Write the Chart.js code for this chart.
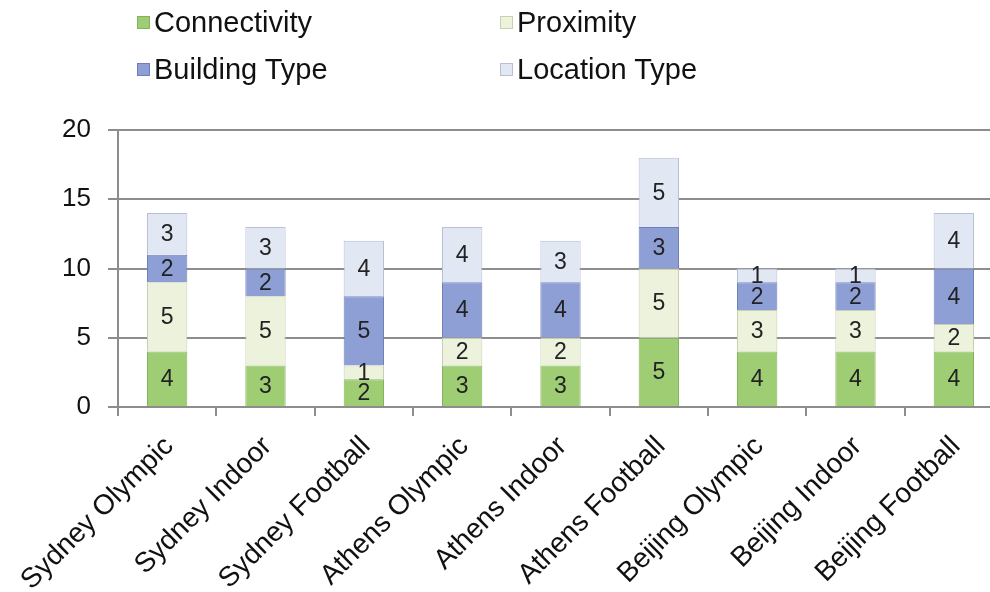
<!DOCTYPE html>
<html>
<head>
<meta charset="utf-8">
<script src="https://cdn.jsdelivr.net/npm/chart.js@4/dist/chart.umd.min.js"></script>
<style>
  html, body { margin: 0; padding: 0; background: #fff; width: 990px; height: 592px; overflow: hidden; }
  #wrap { position: relative; width: 1010px; height: 592px; }
  #chart { position: absolute; left: 0; top: 0; }
  #legend {
    position: absolute; left: 137px; top: -1px;
    font-family: "Liberation Sans", Arial, sans-serif; font-size: 29px; color: #111;
    display: grid; grid-template-columns: 363px 260px; line-height: 47px;
  }
  #legend .item { display: flex; align-items: center; white-space: nowrap; }
  #legend .box { width: 13px; height: 13px; margin-right: 4px; box-sizing: border-box; border: 1px solid; }
</style>
</head>
<body>
<div id="wrap">
  <canvas id="chart" width="1010" height="592"></canvas>
  <div id="legend"></div>
</div>
<script>
// Venue categories
const venues = [
  'Sydney Olympic', 'Sydney Indoor', 'Sydney Football',
  'Athens Olympic', 'Athens Indoor', 'Athens Football',
  'Beijing Olympic', 'Beijing Indoor', 'Beijing Football'
];

// Score components per venue
const connectivity = [4, 3, 2, 3, 3, 5, 4, 4, 4];
const proximity    = [5, 5, 1, 2, 2, 5, 3, 3, 2];
const buildingType = [2, 2, 5, 4, 4, 3, 2, 2, 4];
const locationType = [3, 3, 4, 4, 3, 5, 1, 1, 4];

// Y axis ticks
const yTicks = [0, 5, 10, 15, 20];

const seriesNames = ['Connectivity', 'Proximity', 'Building Type', 'Location Type'];
const seriesData = [connectivity, proximity, buildingType, locationType];
const fills   = ['#9fcd74', '#edf2dc', '#8e9fd5', '#e2e7f4'];
const strokes = ['#84b25c', '#c9cfb3', '#6d7fb8', '#b8bfd6'];

const FONT = '"Liberation Sans", Arial, sans-serif';
const GRID = '#8d8d8d';

// Numbers centred inside each stacked segment
const segmentLabels = {
  id: 'segmentLabels',
  afterDatasetsDraw(chart) {
    const ctx = chart.ctx;
    ctx.save();
    ctx.font = '23px ' + FONT;
    ctx.fillStyle = '#222';
    ctx.textAlign = 'center';
    ctx.textBaseline = 'middle';
    chart.data.datasets.forEach((ds, i) => {
      const meta = chart.getDatasetMeta(i);
      meta.data.forEach((bar, j) => {
        const v = ds.data[j];
        if (!v) return;
        const { x, y, base } = bar.getProps(['x', 'y', 'base'], true);
        ctx.fillText(String(v), x, (y + base) / 2 + 1);
      });
    });
    ctx.restore();
  }
};

new Chart(document.getElementById('chart'), {
  type: 'bar',
  data: {
    labels: venues,
    datasets: seriesData.map((d, i) => ({
      label: seriesNames[i],
      data: d,
      backgroundColor: fills[i],
      borderColor: strokes[i],
      borderWidth: 1,
      barPercentage: 0.41,
      categoryPercentage: 1.0
    }))
  },
  options: {
    responsive: false,
    devicePixelRatio: 1,
    animation: false,
    layout: { padding: { top: 130, right: 7, left: 0, bottom: 0 } },
    plugins: { legend: { display: false }, tooltip: { enabled: false } },
    scales: {
      x: {
        stacked: true,
        grid: { display: true, drawOnChartArea: false, drawTicks: true, tickLength: 9, color: GRID, lineWidth: 2, offset: true },
        border: { display: true, color: GRID, width: 2 },
        ticks: {
          font: { family: FONT, size: 28 }, color: '#111',
          minRotation: 45, maxRotation: 45, autoSkip: false,
          labelOffset: 2, padding: 14
        },
        afterFit(scale) { scale.height = 185; }
      },
      y: {
        stacked: true,
        min: 0, max: 20,
        afterBuildTicks(scale) { scale.ticks = yTicks.map(v => ({ value: v })); },
        grid: { color: GRID, lineWidth: 2, tickLength: 10, drawTicks: true },
        border: { display: true, color: GRID, width: 2 },
        ticks: { font: { family: FONT, size: 26 }, color: '#111', padding: 17 },
        afterFit(scale) { scale.width = 118; }
      }
    }
  },
  plugins: [segmentLabels]
});

// Legend in two columns
const legend = document.getElementById('legend');
seriesNames.forEach((name, i) => {
  const item = document.createElement('div');
  item.className = 'item';
  const box = document.createElement('span');
  box.className = 'box';
  box.style.background = fills[i];
  box.style.borderColor = strokes[i];
  item.appendChild(box);
  item.appendChild(document.createTextNode(name));
  legend.appendChild(item);
});
</script>
</body>
</html>
